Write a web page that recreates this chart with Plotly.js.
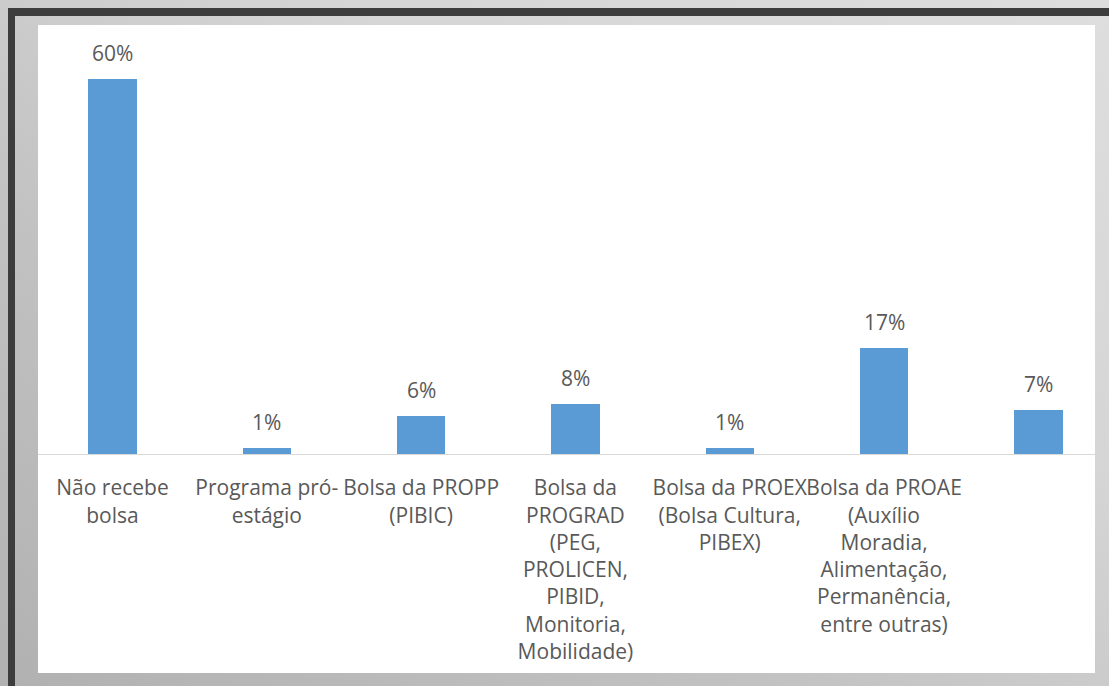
<!DOCTYPE html>
<html>
<head>
<meta charset="utf-8">
<script src="https://cdn.plot.ly/plotly-3.0.1.min.js"></script>
<style>
  html, body { margin: 0; padding: 0; width: 1109px; height: 686px; overflow: hidden; }
  body {
    position: relative;
    background: linear-gradient(to top right, #b1b1b1 0%, #c2c2c2 35%, #d5d5d5 65%, #dedede 100%);
  }
  #frameTop { position: absolute; left: 8px; top: 8px; width: 1101px; height: 8px; background: #3d3d3d; }
  #frameLeft { position: absolute; left: 8px; top: 8px; width: 7px; height: 678px; background: #3d3d3d; }
  #sheet { position: absolute; left: 38px; top: 25px; width: 1057px; height: 648px; background: #ffffff; }
  #chart { position: absolute; left: 0; top: 0; width: 1109px; height: 686px; }
</style>
</head>
<body>
<div id="frameTop"></div>
<div id="frameLeft"></div>
<div id="sheet"></div>
<div id="chart"></div>
<script>
// ---- data ----
const categories = [
  "Não recebe<br>bolsa",
  "Programa pró-<br>estágio",
  "Bolsa da PROPP<br>(PIBIC)",
  "Bolsa da<br>PROGRAD<br>(PEG,<br>PROLICEN,<br>PIBID,<br>Monitoria,<br>Mobilidade)",
  "Bolsa da PROEX<br>(Bolsa Cultura,<br>PIBEX)",
  "Bolsa da PROAE<br>(Auxílio<br>Moradia,<br>Alimentação,<br>Permanência,<br>entre outras)",
  ""
];
const values = [60, 1, 6, 8, 1, 17, 7];
const valueLabels = ["60%", "1%", "6%", "8%", "1%", "17%", "7%"];

// ---- chart ----
const idx = categories.map((c, i) => i);
const textColor = "#595959";
const font = "'Open Sans', sans-serif";

const trace = {
  type: "bar",
  x: idx,
  y: values,
  width: 0.313,
  marker: { color: "#5B9BD5", line: { width: 0 } },
  hoverinfo: "skip"
};

const annotations = idx.map(i => ({
  x: i, y: values[i], xref: "x", yref: "y",
  text: valueLabels[i], showarrow: false,
  yanchor: "middle", yshift: 26,
  font: { family: font, size: 21, color: textColor }
}));

const layout = {
  width: 1109, height: 686,
  margin: { l: 38, r: 14, t: 41, b: 232, pad: 0 },
  paper_bgcolor: "rgba(0,0,0,0)",
  plot_bgcolor: "rgba(0,0,0,0)",
  showlegend: false,
  bargap: 0,
  xaxis: {
    range: [-0.4828, 6.367],
    tickvals: idx,
    ticktext: categories,
    tickangle: 0,
    ticks: "",
    ticklabelstandoff: 15,
    showgrid: false,
    zeroline: false,
    showline: true,
    linecolor: "#d9d9d9",
    linewidth: 1,
    tickfont: { family: font, size: 21, color: textColor },
    fixedrange: true
  },
  yaxis: {
    range: [0, 66],
    visible: false,
    showgrid: false,
    zeroline: false,
    fixedrange: true
  },
  annotations: annotations
};

Plotly.newPlot("chart", [trace], layout, { displayModeBar: false, staticPlot: true });
</script>
</body>
</html>
